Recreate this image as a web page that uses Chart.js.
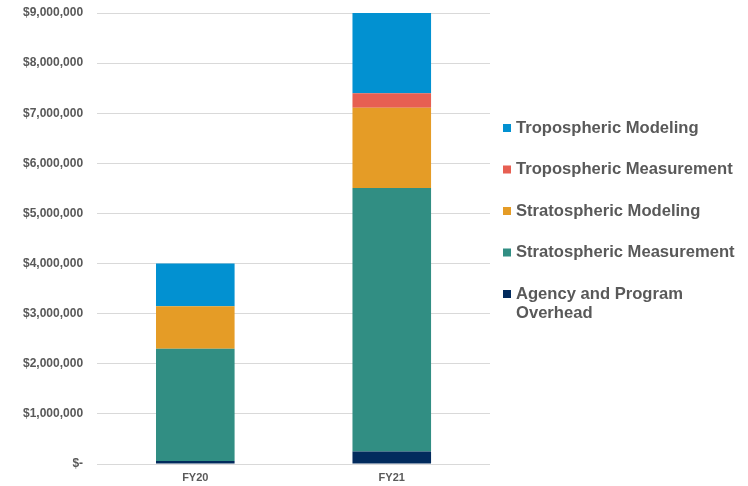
<!DOCTYPE html>
<html>
<head>
<meta charset="utf-8">
<script src="https://cdn.jsdelivr.net/npm/chart.js@4"></script>
<style>
    html, body { margin: 0; padding: 0; background: #fff; }
    #wrap { width: 748px; height: 486px; }
</style>
</head>
<body>
<div id="wrap"><canvas id="budgetChart"></canvas></div>
<script>
// Fiscal years
const years = ['FY20', 'FY21'];

// Series names, stacking order bottom-up (legend lists them top-down, reversed)
const seriesNames = [
    ['Agency and Program', 'Overhead'],
    'Stratospheric Measurement',
    'Stratospheric Modeling',
    'Tropospheric Measurement',
    'Tropospheric Modeling'
];

// Stacked values, in dollars
const overhead = [60000, 250000];
const stratMeasurement = [2240000, 5260000];
const stratModeling = [850000, 1600000];
const tropMeasurement = [0, 290000];
const tropModeling = [850000, 1600000];

const yTicks = [0, 1000000, 2000000, 3000000, 4000000, 5000000, 6000000, 7000000, 8000000, 9000000];

const colors = ['#022B5D', '#318E83', '#E59C26', '#E75F52', '#0291D1'];
const seriesValues = [overhead, stratMeasurement, stratModeling, tropMeasurement, tropModeling];

const fontFamily = 'Arial, "Liberation Sans", sans-serif';
const textColor = '#595959';

// Legend drawn on the right, in the space kept free by layout padding
const sideLegend = {
    id: 'sideLegend',
    afterDraw(chart) {
        const ctx = chart.ctx;
        const sets = chart.data.datasets.slice().reverse();
        const boxX = 503, textX = 516, boxSize = 8;
        let y = 128;
        ctx.save();
        ctx.font = 'bold 16.6px ' + fontFamily;
        ctx.textBaseline = 'middle';
        ctx.textAlign = 'left';
        sets.forEach(ds => {
            ctx.fillStyle = ds.backgroundColor;
            ctx.fillRect(boxX, y - boxSize / 2, boxSize, boxSize);
            ctx.fillStyle = textColor;
            const lines = Array.isArray(ds.label) ? ds.label : [ds.label];
            lines.forEach((line, i) => ctx.fillText(line, textX, y + i * 19.5));
            y += 41.5;
        });
        ctx.restore();
    }
};

document.addEventListener('DOMContentLoaded', function () {
    const ctx = document.getElementById('budgetChart').getContext('2d');
    new Chart(ctx, {
        type: 'bar',
        data: {
            labels: years,
            datasets: seriesValues.map((vals, i) => ({
                label: seriesNames[i],
                data: vals,
                backgroundColor: colors[i],
                borderWidth: 0,
                categoryPercentage: 1,
                barPercentage: 0.4
            }))
        },
        options: {
            responsive: true,
            maintainAspectRatio: false,
            animation: false,
            layout: {
                autoPadding: false,
                padding: { left: 9, top: 13, right: 258, bottom: 0 }
            },
            plugins: {
                tooltip: { enabled: false },
                legend: { display: false }
            },
            scales: {
                x: {
                    stacked: true,
                    grid: { display: false, drawTicks: false },
                    border: { display: false },
                    afterFit: function (axis) { axis.height = 22; },
                    ticks: {
                        color: textColor,
                        padding: 7,
                        font: { family: fontFamily, size: 11, weight: 'bold' }
                    }
                },
                y: {
                    stacked: true,
                    min: 0,
                    max: 9000000,
                    grid: { color: '#D9D9D9', drawTicks: false },
                    border: { display: false },
                    afterBuildTicks: function (axis) {
                        axis.ticks = yTicks.map(v => ({ value: v }));
                    },
                    afterFit: function (axis) {
                        axis.paddingTop = 0;
                        axis.paddingBottom = 0;
                    },
                    ticks: {
                        color: textColor,
                        padding: 14,
                        font: { family: fontFamily, size: 12, weight: 'bold' },
                        callback: function (value) {
                            if (value === 0) return '$-';
                            return '$' + value.toLocaleString('en-US');
                        }
                    }
                }
            }
        },
        plugins: [sideLegend]
    });
});
</script>
</body>
</html>
